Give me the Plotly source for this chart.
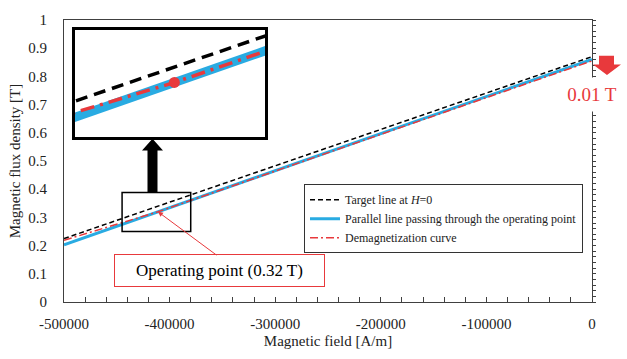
import plotly.graph_objects as go

# ---- data -------------------------------------------------------------
H_LINE = [-500000, 0]                      # magnetic field end points [A/m]
TARGET_B = [0.225, 0.870]                  # target line at H=0 [T]
PARALLEL_B = [0.203, 0.860]                # parallel line through operating point [T]

DEMAG_H = [-500000, -460000, -411000, -350000, -300000, -250000,
           -200000, -150000, -100000, -50000, 0]
DEMAG_B = [0.219, 0.264, 0.320, 0.399, 0.464, 0.530,
           0.595, 0.660, 0.725, 0.790, 0.855]

OP_H = -411000                             # operating point field [A/m]
OP_B = 0.32                                # operating point flux density [T]

X_TICKS = [-500000, -400000, -300000, -200000, -100000, 0]
X_TICK_TEXT = ["-500000", "-400000", "-300000", "-200000", "-100000", "0"]
Y_TICKS = [0, 0.1, 0.2, 0.3, 0.4, 0.5, 0.6, 0.7, 0.8, 0.9, 1]
Y_TICK_TEXT = ["0", "0.1", "0.2", "0.3", "0.4", "0.5", "0.6", "0.7", "0.8", "0.9", "1"]

ZOOM_H = [-445000, -380000]                # magnified window, field range
ZOOM_B = [0.25, 0.388]                     # magnified window, flux range

# ---- styling ------------------------------------------------------------
SERIF = "Liberation Serif"
BLUE = "#29abe2"
RED = "#e8393c"
AXIS = "#404040"
TEXT = "#222222"

W, H = 627, 359
ML, MR, MT, MB = 64, 35, 16, 51
PW, PH = W - ML - MR, H - MT - MB


def paper(x, y):
    """Pixel position on the page -> paper coordinates."""
    return (x - ML) / PW, (H - MB - y) / PH


def path(points):
    pts = [paper(x, y) for x, y in points]
    return "M " + " L ".join(f"{a:.5f},{b:.5f}" for a, b in pts) + " Z"


fig = go.Figure()

# main curves
fig.add_trace(go.Scatter(x=H_LINE, y=PARALLEL_B, mode="lines",
                         name="Parallel line passing through the operating point",
                         line=dict(color=BLUE, width=3), legendrank=2))
fig.add_trace(go.Scatter(x=DEMAG_H, y=DEMAG_B, mode="lines",
                         name="Demagnetization curve",
                         line=dict(color=RED, width=1.5, dash="8px,3px,2px,3px"),
                         legendrank=3))
fig.add_trace(go.Scatter(x=H_LINE, y=TARGET_B, mode="lines",
                         name="Target line at <i>H</i>=0",
                         line=dict(color="black", width=1.5, dash="5px,3px"),
                         legendrank=1))

# magnified view
fig.add_trace(go.Scatter(x=H_LINE, y=PARALLEL_B, mode="lines", xaxis="x2", yaxis="y2",
                         line=dict(color=BLUE, width=9), showlegend=False))
fig.add_trace(go.Scatter(x=DEMAG_H, y=DEMAG_B, mode="lines", xaxis="x2", yaxis="y2",
                         line=dict(color=RED, width=3.5, dash="14px,6px,3px,6px"),
                         showlegend=False))
fig.add_trace(go.Scatter(x=H_LINE, y=TARGET_B, mode="lines", xaxis="x2", yaxis="y2",
                         line=dict(color="black", width=3.5, dash="12px,7px"),
                         showlegend=False))
fig.add_trace(go.Scatter(x=[OP_H], y=[OP_B], mode="markers", xaxis="x2", yaxis="y2",
                         marker=dict(color=RED, size=11), showlegend=False))

# right-hand frame axis with fine ticks
fig.add_trace(go.Scatter(x=H_LINE, y=[0, 1], yaxis="y3", mode="lines",
                         line=dict(width=0, color="rgba(0,0,0,0)"),
                         showlegend=False, hoverinfo="skip"))

tick_font = dict(family=SERIF, size=15, color=TEXT)
title_font = dict(family=SERIF, size=15, color=TEXT)

fig.update_layout(
    width=W, height=H,
    margin=dict(l=ML, r=MR, t=MT, b=MB),
    paper_bgcolor="white", plot_bgcolor="white",
    font=dict(family=SERIF, color=TEXT),
    xaxis=dict(range=[-500000, 0], tickvals=X_TICKS, ticktext=X_TICK_TEXT,
               ticks="inside", ticklen=5, tickcolor=AXIS,
               minor=dict(dtick=20000, tick0=0, ticks="inside", ticklen=5, tickcolor=AXIS),
               showline=True, linecolor=AXIS, linewidth=1, mirror=True,
               showgrid=False, zeroline=False, tickfont=tick_font,
               ticklabelstandoff=8,
               title=dict(text="Magnetic field [A/m]", font=title_font, standoff=4)),
    yaxis=dict(range=[0, 1], tickvals=Y_TICKS, ticktext=Y_TICK_TEXT, ticks="",
               showline=True, linecolor=AXIS, linewidth=1,
               showgrid=False, zeroline=False, tickfont=tick_font,
               ticklabelstandoff=13,
               title=dict(text="Magnetic flux density [T]", font=title_font, standoff=4)),
    yaxis3=dict(range=[0, 1], overlaying="y", side="right", anchor="x",
                showline=True, linecolor=AXIS, linewidth=1,
                tickmode="linear", tick0=0, dtick=0.02,
                ticks="outside", ticklen=3, tickwidth=1, tickcolor=AXIS,
                showticklabels=False, showgrid=False, zeroline=False),
    xaxis2=dict(domain=[paper(75, 0)[0], paper(265, 0)[0]], anchor="y2",
                range=ZOOM_H, showticklabels=False, ticks="", showgrid=False,
                zeroline=False, showline=True, mirror=True, linecolor="black", linewidth=2.5),
    yaxis2=dict(domain=[paper(0, 137)[1], paper(0, 26)[1]], anchor="x2",
                range=ZOOM_B, showticklabels=False, ticks="", showgrid=False,
                zeroline=False, showline=True, mirror=True, linecolor="black", linewidth=2.5),
    legend=dict(x=paper(304, 0)[0], y=paper(0, 186)[1], xanchor="left", yanchor="top",
                bgcolor="white", bordercolor="#333333", borderwidth=1,
                font=dict(family=SERIF, size=12, color=TEXT), itemwidth=30),
    showlegend=True,
)

shapes = [
    # window that is magnified
    dict(type="rect", xref="x", yref="y", x0=ZOOM_H[0], x1=ZOOM_H[1],
         y0=ZOOM_B[0], y1=ZOOM_B[1], line=dict(color="black", width=1.5)),
    # black block arrow pointing to the magnified view
    dict(type="path", xref="paper", yref="paper",
         path=path([(147.5, 194), (147.5, 151), (142, 151), (152.5, 139),
                    (163, 151), (157.5, 151), (157.5, 194)]),
         fillcolor="black", line=dict(width=0)),
    # red block arrow showing the 0.01 T drop at H=0
    dict(type="path", xref="paper", yref="paper",
         path=path([(599, 53), (614, 53), (614, 62), (621, 62), (607, 73),
                    (593, 62), (599, 62)]),
         fillcolor=RED, line=dict(width=0)),
]
fig.update_layout(shapes=shapes)

op_px = ML + (OP_H - (-500000)) / 500000 * PW
op_py = MT + (1 - OP_B) * PH
box_x, box_y = paper(219.5, 275)
drop_x, drop_y = paper(592, 93.5)

fig.update_layout(annotations=[
    dict(xref="paper", yref="paper", x=box_x, y=box_y, xanchor="center", yanchor="middle",
         text="Operating point (0.32 T)", showarrow=False,
         font=dict(family=SERIF, size=17, color="black"),
         bgcolor="white", bordercolor=RED, borderwidth=1, borderpad=2,
         width=205, height=27),
    dict(xref="x", yref="y", x=OP_H, y=OP_B, text="", showarrow=True,
         ax=218 - op_px, ay=259 - op_py, arrowhead=2, arrowsize=1, arrowwidth=1,
         arrowcolor=RED, standoff=0),
    dict(xref="paper", yref="paper", x=drop_x, y=drop_y, xanchor="center", yanchor="middle",
         text="0.01 T", showarrow=False, font=dict(family=SERIF, size=19, color=RED),
         bgcolor="white", borderpad=0, width=56, height=33),
])

fig.write_html("out.html")
